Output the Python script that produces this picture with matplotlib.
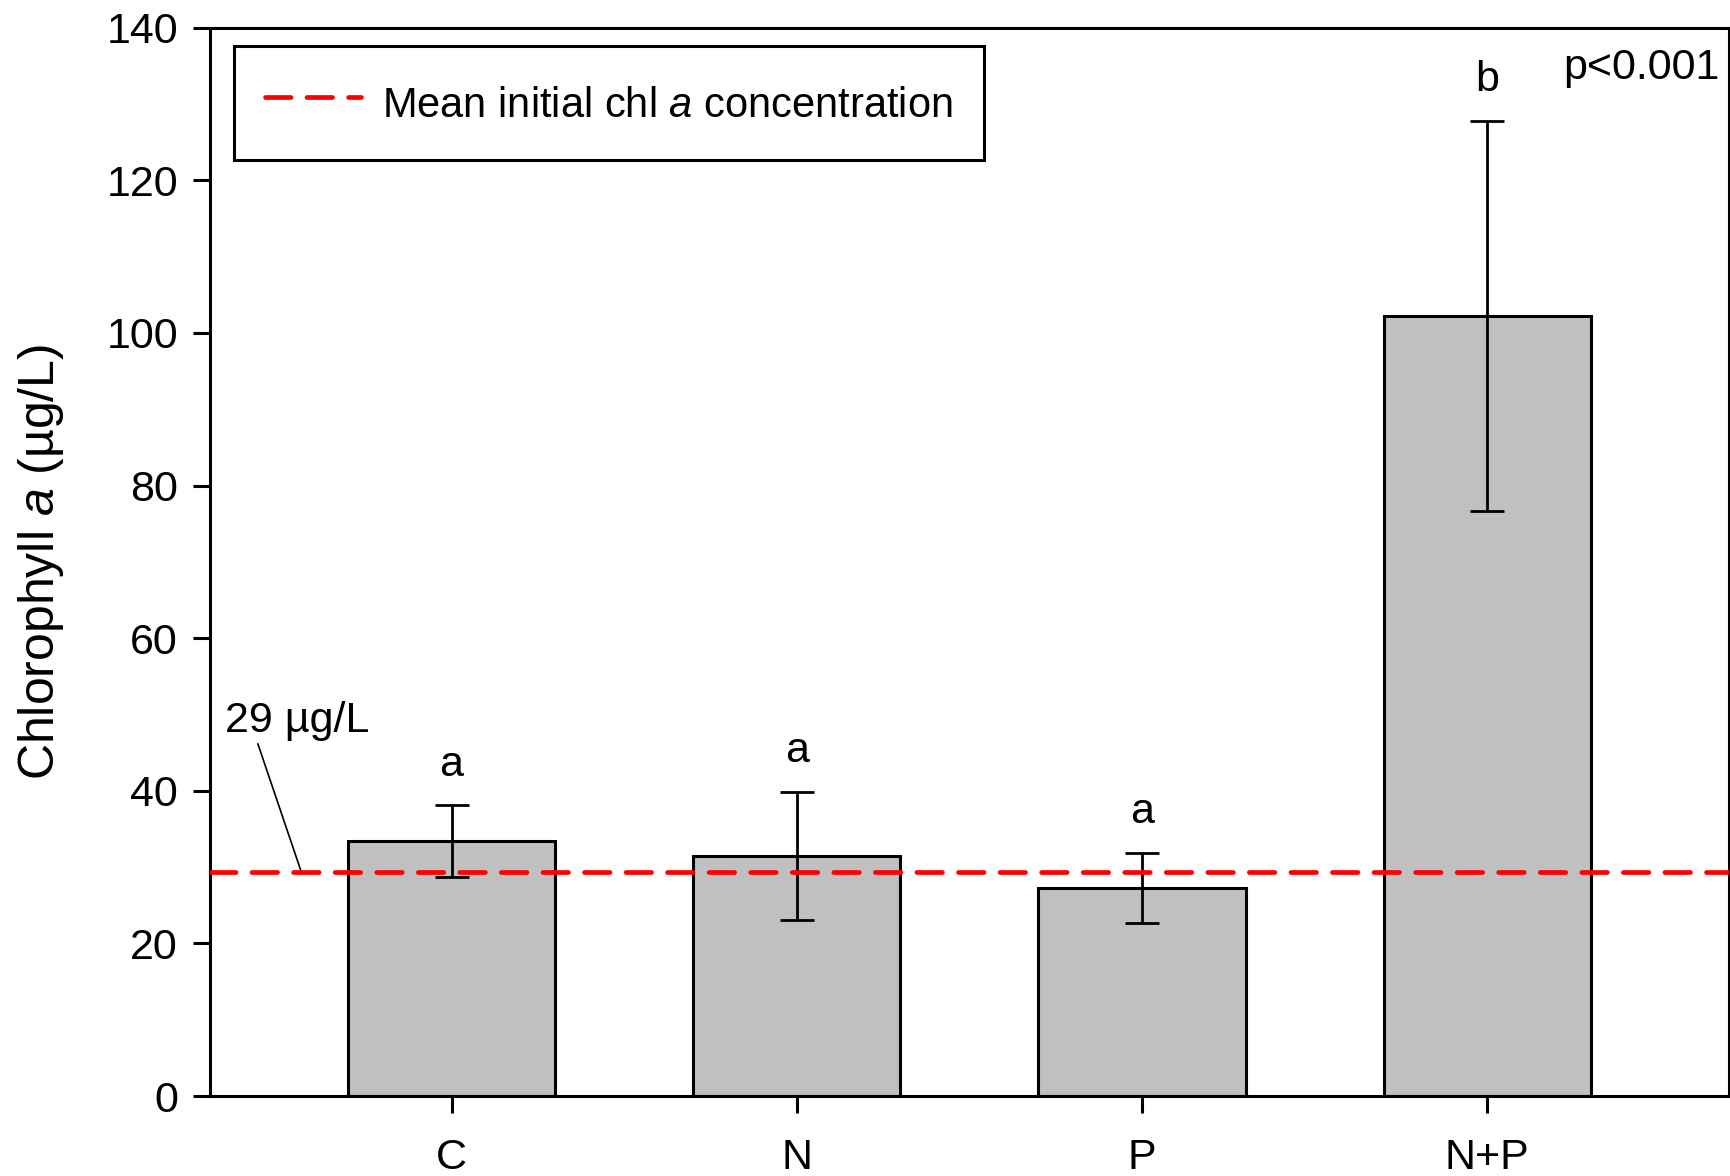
import numpy as np
import matplotlib
matplotlib.use('Agg')
import matplotlib.pyplot as plt

plt.rcParams['font.family'] = ['Liberation Sans', 'DejaVu Sans']
plt.rcParams['mathtext.fontset'] = 'custom'
plt.rcParams['mathtext.rm'] = 'Liberation Sans'
plt.rcParams['mathtext.it'] = 'Liberation Sans:italic'

# data
treatments = ['C', 'N', 'P', 'N+P']
chl_mean = [33.4, 31.5, 27.3, 102.2]
chl_err = [4.7, 8.4, 4.6, 25.6]
letters = ['a', 'a', 'a', 'b']
initial_chl = 29.3

fig = plt.figure(figsize=(17.31, 11.76), dpi=100)
ax = fig.add_axes([0.1213, 0.068, 0.8775, 0.9085])

x = np.arange(len(treatments))
ax.bar(x, chl_mean, width=0.6, color='#c0c0c0', edgecolor='black', linewidth=2.2, zorder=2)
ax.errorbar(x, chl_mean, yerr=chl_err, fmt='none', ecolor='black', elinewidth=2,
            capsize=12, capthick=2, zorder=3)

ax.axhline(initial_chl, color='#ff0000', linewidth=3.4, dashes=(5.4, 3.4),
           dash_capstyle='round', zorder=4,
           label='Mean initial chl $a$ concentration')

for xi, m, e, l in zip(x, chl_mean, chl_err, letters):
    ax.text(xi, m + e + 5.3, l, ha='center', va='center', fontsize=31)

ax.annotate('29 µg/L', xy=(-0.435, initial_chl), xytext=(-0.656, 47.7),
            fontsize=31, ha='left', va='baseline',
            arrowprops=dict(arrowstyle='-', color='black', lw=1.2,
                            shrinkA=0, shrinkB=0, relpos=(0.22, 0)))

ax.text(0.994, 0.962, 'p<0.001', transform=ax.transAxes, ha='right', va='center', fontsize=31)

ax.set_xlim(-0.7, 3.7)
ax.set_ylim(0, 140)
ax.set_yticks(np.arange(0, 141, 20))
ax.set_xticks(x)
ax.set_xticklabels(treatments)
ax.tick_params(axis='both', direction='out', length=12, width=2.2, labelsize=31)
ax.tick_params(axis='y', pad=11)
ax.tick_params(axis='x', pad=18)
for s in ax.spines.values():
    s.set_linewidth(2.2)

ax.set_ylabel('Chlorophyll $a$ (µg/L)', fontsize=36)
ax.yaxis.set_label_coords(-0.095, 0.5)

leg = ax.legend(loc='upper left', bbox_to_anchor=(0.0158, 0.983), borderaxespad=0,
                fontsize=30, fancybox=False, edgecolor='black', framealpha=1,
                handlelength=2.3, handleheight=1.55, handletextpad=0.5, borderpad=0.75)
leg.get_frame().set_linewidth(2.2)

fig.savefig('out.png', dpi=100)
